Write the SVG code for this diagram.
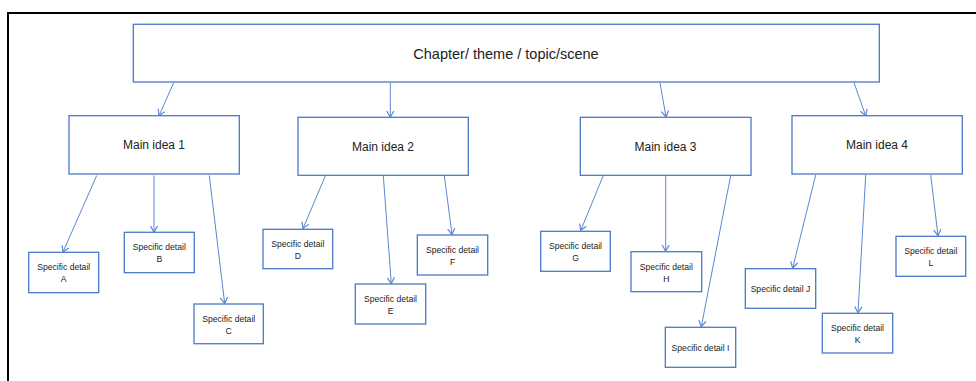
<svg xmlns="http://www.w3.org/2000/svg" width="976" height="381" viewBox="0 0 976 381">
<style>
.box{fill:#fff;stroke:#4a78c8;stroke-width:1.3}
.t{font-family:"Liberation Sans",Arial,sans-serif;fill:#222;text-anchor:middle}
.top{font-size:14.5px}
.main{font-size:12px}
.det{font-size:8.6px}
.con line{stroke:#5a86d4;stroke-width:1;fill:none}
</style>
<defs>
<marker id="ah" markerUnits="userSpaceOnUse" markerWidth="12" markerHeight="12" viewBox="-7 -5 9 10" refX="0" refY="0" orient="auto">
<path d="M-5,-3 L0,0 L-5,3" fill="none" stroke="#5a86d4" stroke-width="1"/>
</marker>
</defs>
<rect width="976" height="381" fill="#fff"/>
<path d="M8,381 V13 H976" fill="none" stroke="#000" stroke-width="2"/>
<g class="con">
<line x1="173.7" y1="82.7" x2="159" y2="115.7" marker-end="url(#ah)"/>
<line x1="390.3" y1="82.7" x2="390.3" y2="117" marker-end="url(#ah)"/>
<line x1="660" y1="82.7" x2="666" y2="117" marker-end="url(#ah)"/>
<line x1="854" y1="82.7" x2="865.7" y2="115.7" marker-end="url(#ah)"/>
<line x1="96.7" y1="175.5" x2="63" y2="252" marker-end="url(#ah)"/>
<line x1="154" y1="175.5" x2="154" y2="232" marker-end="url(#ah)"/>
<line x1="209.3" y1="175.5" x2="224.7" y2="303.5" marker-end="url(#ah)"/>
<line x1="325.5" y1="175.5" x2="303" y2="228.5" marker-end="url(#ah)"/>
<line x1="383.3" y1="175.5" x2="391.3" y2="283.5" marker-end="url(#ah)"/>
<line x1="444.3" y1="175.5" x2="452" y2="234.5" marker-end="url(#ah)"/>
<line x1="603.3" y1="175.5" x2="580.7" y2="230.5" marker-end="url(#ah)"/>
<line x1="665.7" y1="175.5" x2="665.7" y2="251" marker-end="url(#ah)"/>
<line x1="730.7" y1="175.5" x2="701.3" y2="326.7" marker-end="url(#ah)"/>
<line x1="815.7" y1="175" x2="792.7" y2="268" marker-end="url(#ah)"/>
<line x1="865.7" y1="175" x2="858" y2="312.7" marker-end="url(#ah)"/>
<line x1="930.7" y1="175" x2="938" y2="235.7" marker-end="url(#ah)"/>
</g>
<g id="topic">
<rect class="box" x="133.3" y="24.3" width="746" height="57.7"/>
<text class="t top" x="506" y="58.5">Chapter/ theme / topic/scene</text>
</g>
<g id="main1">
<rect class="box" x="69" y="115.7" width="170.3" height="58.3"/>
<text class="t main" x="154" y="149.3">Main idea 1</text>
</g>
<g id="main2">
<rect class="box" x="298" y="117.3" width="170.3" height="58"/>
<text class="t main" x="383" y="150.5">Main idea 2</text>
</g>
<g id="main3">
<rect class="box" x="580.3" y="117.3" width="170.7" height="58"/>
<text class="t main" x="665.5" y="150.5">Main idea 3</text>
</g>
<g id="main4">
<rect class="box" x="792" y="115.7" width="170.3" height="58.3"/>
<text class="t main" x="877" y="149.3">Main idea 4</text>
</g>
<g id="detA">
<rect class="box" x="28.7" y="252.3" width="70" height="40.4"/>
<text class="t det" x="63.7" y="270.3">Specific detail</text>
<text class="t det" x="63.7" y="282.3">A</text>
</g>
<g id="detB">
<rect class="box" x="124.3" y="232.3" width="70" height="40.4"/>
<text class="t det" x="159.3" y="250.3">Specific detail</text>
<text class="t det" x="159.3" y="262.3">B</text>
</g>
<g id="detC">
<rect class="box" x="194" y="304" width="69.3" height="39.7"/>
<text class="t det" x="228.7" y="322">Specific detail</text>
<text class="t det" x="228.7" y="334">C</text>
</g>
<g id="detD">
<rect class="box" x="263" y="229.3" width="69.7" height="39.4"/>
<text class="t det" x="297.8" y="247.3">Specific detail</text>
<text class="t det" x="297.8" y="259.3">D</text>
</g>
<g id="detE">
<rect class="box" x="355.3" y="284" width="70.4" height="40"/>
<text class="t det" x="390.5" y="302">Specific detail</text>
<text class="t det" x="390.5" y="314">E</text>
</g>
<g id="detF">
<rect class="box" x="417.3" y="235" width="70.4" height="40"/>
<text class="t det" x="452.5" y="253">Specific detail</text>
<text class="t det" x="452.5" y="265">F</text>
</g>
<g id="detG">
<rect class="box" x="540.7" y="231.3" width="69.6" height="40"/>
<text class="t det" x="575.5" y="249.3">Specific detail</text>
<text class="t det" x="575.5" y="261.3">G</text>
</g>
<g id="detH">
<rect class="box" x="631" y="251.7" width="70.7" height="40"/>
<text class="t det" x="666.3" y="269.7">Specific detail</text>
<text class="t det" x="666.3" y="281.7">H</text>
</g>
<g id="detI">
<rect class="box" x="665.3" y="327.3" width="70.4" height="40"/>
<text class="t det" x="700.5" y="351.3">Specific detail I</text>
</g>
<g id="detJ">
<rect class="box" x="745.3" y="268.7" width="70.4" height="39.6"/>
<text class="t det" x="780.5" y="292">Specific detail J</text>
</g>
<g id="detK">
<rect class="box" x="822.3" y="313.3" width="70.4" height="39.7"/>
<text class="t det" x="857.5" y="331.3">Specific detail</text>
<text class="t det" x="857.5" y="343.3">K</text>
</g>
<g id="detL">
<rect class="box" x="896" y="236.3" width="69.7" height="40"/>
<text class="t det" x="930.8" y="254.3">Specific detail</text>
<text class="t det" x="930.8" y="266.3">L</text>
</g>
</svg>
